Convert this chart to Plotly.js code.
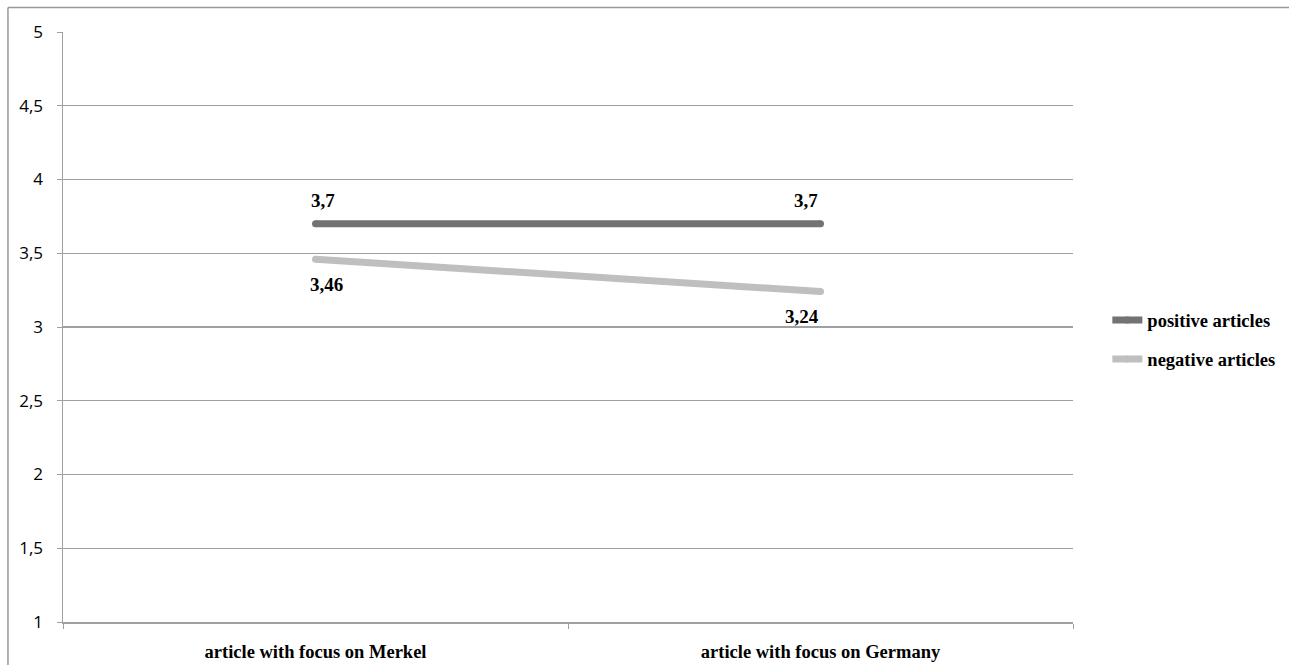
<!DOCTYPE html>
<html>
<head>
<meta charset="utf-8">
<script src="https://cdn.plot.ly/plotly-3.0.1.min.js"></script>
<style>
html,body{margin:0;padding:0;background:#fff;}
#chart{width:1289px;height:665px;}
</style>
</head>
<body>
<div id="chart"></div>
<script>
const categories = ["article with focus on Merkel", "article with focus on Germany"];
const positiveValues = [3.7, 3.7];
const negativeValues = [3.46, 3.24];
const positiveLabels = ["3,7", "3,7"];
const negativeLabels = ["3,46", "3,24"];
const yTickVals = [1, 1.5, 2, 2.5, 3, 3.5, 4, 4.5, 5];
const yTickText = ["1", "1,5", "2", "2,5", "3", "3,5", "4", "4,5", "5"];

const serif = "Liberation Serif, Times New Roman, serif";
const labelFont = {family: serif, size: 19, color: "#000", weight: "bold"};

const traces = [
  {
    x: categories, y: positiveValues, name: "positive articles", type: "scatter", mode: "lines+markers",
    line: {color: "#737373", width: 7}, marker: {color: "#737373", size: 7}, legendgroup: "p"
  },
  {
    x: categories, y: negativeValues, name: "negative articles", type: "scatter", mode: "lines+markers",
    line: {color: "#bfbfbf", width: 7}, marker: {color: "#bfbfbf", size: 7}, legendgroup: "n"
  }
];

const posShifts = [7, -15];
const negShifts = [11, -19];
const annotations = [];
categories.forEach((c, i) => {
  annotations.push({x: c, y: positiveValues[i], text: positiveLabels[i], showarrow: false,
    yshift: 23, xshift: posShifts[i], font: labelFont});
  annotations.push({x: c, y: negativeValues[i], text: negativeLabels[i], showarrow: false,
    yshift: -25, xshift: negShifts[i], font: labelFont});
});

const layout = {
  width: 1289, height: 665,
  margin: {l: 63, r: 216, t: 32, b: 43, autoexpand: false},
  paper_bgcolor: "#fff", plot_bgcolor: "#fff",
  showlegend: true,
  legend: {
    x: 1.034, y: 0.478, xanchor: "left", yanchor: "middle",
    font: {family: serif, size: 18.5, color: "#000", weight: "bold"},
    traceorder: "grouped", tracegroupgap: 12, itemwidth: 30,
    bgcolor: "rgba(0,0,0,0)"
  },
  xaxis: {
    type: "category", range: [-0.5, 1.5],
    showline: true, linecolor: "#a0a0a0", linewidth: 1.5,
    ticks: "outside", tickson: "boundaries", ticklen: 5, tickcolor: "#a0a0a0",
    showgrid: false, zeroline: false,
    tickfont: {family: serif, size: 18.5, color: "#000", weight: "bold"},
    ticklabelstandoff: 12
  },
  yaxis: {
    range: [1, 5], tickvals: yTickVals, ticktext: yTickText,
    showline: true, linecolor: "#a0a0a0", linewidth: 1.5,
    ticks: "outside", ticklen: 5, tickcolor: "#a0a0a0",
    showgrid: true, gridcolor: "#a0a0a0", gridwidth: 1.2, zeroline: false,
    tickfont: {family: "Open Sans, sans-serif", size: 17, color: "#000"},
    ticklabelstandoff: 10
  },
  annotations: annotations,
  shapes: [
    {type: "line", xref: "paper", yref: "paper", x0: -0.0545, x1: 1.3, y0: 1.0415, y1: 1.0415,
      line: {color: "#999", width: 1.5}},
    {type: "line", xref: "paper", yref: "paper", x0: -0.0545, x1: -0.0545, y0: 1.0415, y1: -0.2,
      line: {color: "#999", width: 1.5}}
  ]
};

Plotly.newPlot("chart", traces, layout, {displayModeBar: false, staticPlot: true});
</script>
</body>
</html>
